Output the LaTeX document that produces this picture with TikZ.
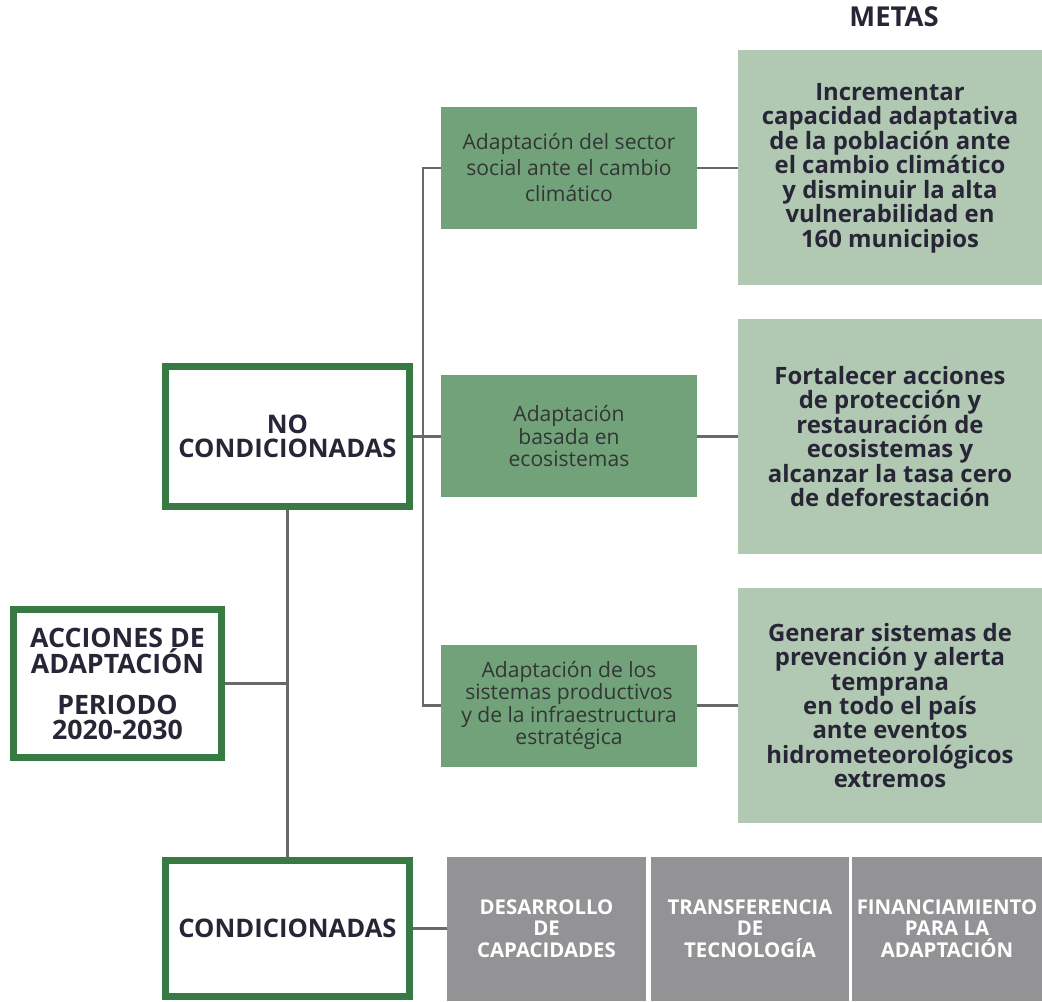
\documentclass[tikz,border=0pt]{standalone}
\usepackage{xcolor}
\usepackage{fontspec}
\setmainfont{Open Sans}
\usepackage{tikz}

\definecolor{verdeoscuro}{RGB}{55,122,68}
\definecolor{verdemedio}{RGB}{114,162,122}
\definecolor{verdeclaro}{RGB}{177,201,179}
\definecolor{grismedio}{RGB}{147,147,150}
\definecolor{lineagris}{RGB}{105,105,108}
\definecolor{textooscuro}{RGB}{40,38,54}
\definecolor{textogris}{RGB}{50,54,52}

\begin{document}
\begin{tikzpicture}[
    linea/.style={draw=lineagris, line width=1.5pt},
    marcobox/.style={draw=verdeoscuro, line width=5pt, fill=white, align=center, inner sep=0pt, text=textooscuro, font=\bfseries\fontsize{18.2}{17.5}\selectfont},
    accionbox/.style={fill=verdemedio, minimum width=6.4cm, minimum height=3.05cm, align=center, inner sep=0pt, text=textogris, font=\fontsize{15}{16}\selectfont},
    metabox/.style={fill=verdeclaro, minimum width=7.6cm, minimum height=5.875cm, align=center, inner sep=0pt, text=textooscuro, font=\bfseries\fontsize{17}{17.4}\selectfont},
    grisbox/.style={fill=grismedio, minimum height=3.6cm, align=center, inner sep=0pt, text=white, font=\bfseries\fontsize{14.5}{15.3}\selectfont}
  ]
    \useasboundingbox (0,0) rectangle (26.05,25.025);

    \node[text=textooscuro, font=\bfseries\fontsize{19.5}{20}\selectfont] (metas) at (22.35,24.6) {METAS};

    \node[marcobox, minimum width=5.2cm, minimum height=3.7cm, font=\bfseries\fontsize{19}{17.8}\selectfont] (acciones) at (2.9375,7.9375)
      {ACCIONES DE\\ADAPTACIÓN\\[11pt]PERIODO\\2020-2030};
    \node[marcobox, minimum width=6.1cm, minimum height=3.5cm] (nocond) at (7.1875,14.1125)
      {NO\\CONDICIONADAS};
    \node[marcobox, minimum width=6.1cm, minimum height=3.4cm] (cond) at (7.1875,1.8125)
      {CONDICIONADAS};

    \node[accionbox, font=\fontsize{15}{18.5}\selectfont] (social) at (14.225,20.825)
      {Adaptación del sector\\social ante el cambio\\climático};
    \node[accionbox] (ecosis) at (14.225,14.1125)
      {Adaptación\\basada en\\ecosistemas};
    \node[accionbox] (productivos) at (14.225,7.3875)
      {Adaptación de los\\sistemas productivos\\y de la infraestructura\\estratégica};

    \node[metabox] (meta1) at (22.25,20.825)
      {Incrementar\\capacidad adaptativa\\de la población ante\\el cambio climático\\y disminuir la alta\\vulnerabilidad en\\160 municipios};
    \node[metabox] (meta2) at (22.25,14.1125)
      {Fortalecer acciones\\de protección y\\restauración de\\ecosistemas y\\alcanzar la tasa cero\\de deforestación};
    \node[metabox] (meta3) at (22.25,7.3875)
      {Generar sistemas de\\prevención y alerta\\temprana\\en todo el país\\ante eventos\\hidrometeorológicos\\extremos};

    \node[grisbox, minimum width=4.975cm] (desarrollo) at (13.6625,1.8125)
      {DESARROLLO\\DE\\CAPACIDADES};
    \node[grisbox, minimum width=4.95cm] (transferencia) at (18.75,1.8125)
      {TRANSFERENCIA\\DE\\TECNOLOGÍA};
    \node[grisbox, minimum width=4.75cm] (financiamiento) at (23.675,1.8125)
      {FINANCIAMIENTO\\PARA LA\\ADAPTACIÓN};

    \coordinate (tronco) at (10.575,14.1125);

    \draw[linea] (social.west) -| (tronco) |- (productivos.west);
    \draw[linea] (nocond.east) -- (ecosis.west);
    \draw[linea] (nocond.south) -- (cond.north);
    \draw[linea] (acciones.east) -- (acciones.east -| cond.north);
    \draw[linea] (cond.east) -- (desarrollo.west);

    \draw[linea] (social.east) -- (meta1.west);
    \draw[linea] (ecosis.east) -- (meta2.west);
    \draw[linea] (productivos.east) -- (meta3.west);
  \end{tikzpicture}
\end{document}
